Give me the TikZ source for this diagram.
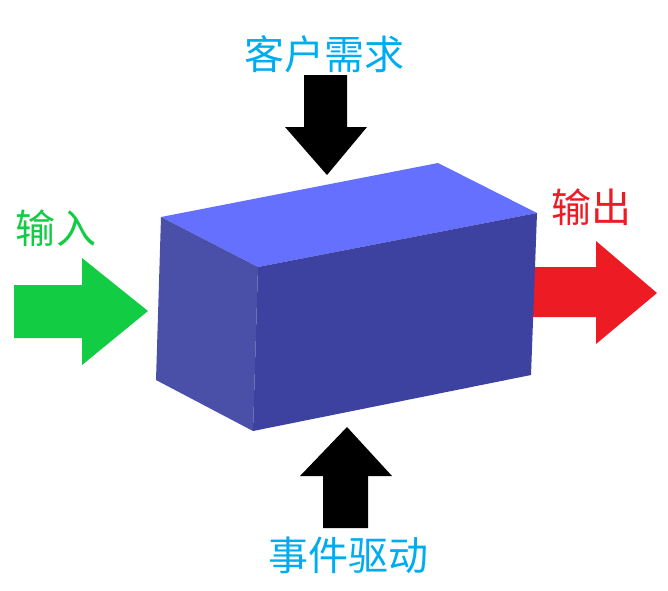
\documentclass[tikz,border=0pt]{standalone}
\usepackage{fontspec}
\newfontfamily\cjk{Noto Sans CJK SC}
\definecolor{arrgreen}{RGB}{18,204,68}
\definecolor{arrred}{RGB}{237,28,36}
\definecolor{lblblue}{RGB}{0,172,240}
\definecolor{facetop}{RGB}{102,112,255}
\definecolor{faceleft}{RGB}{74,80,168}
\definecolor{facefront}{RGB}{61,66,160}
\begin{document}
\begin{tikzpicture}[x=1pt,y=-1pt,
  lbl/.style={font=\cjk\fontsize{40}{40}\selectfont, inner sep=0pt, anchor=base},
  face/.style={line join=round}]
\useasboundingbox (0,0) rectangle (668,590);
% green input arrow
\fill[arrgreen] (14,285) -- (82,285) -- (82,258) -- (148,311) -- (82,365) -- (82,338) -- (14,338) -- cycle;
% red output arrow (shaft starts behind box)
\fill[arrred] (520,267) -- (596,267) -- (596,241) -- (657,293) -- (596,344) -- (596,317) -- (520,317) -- cycle;
% black down arrow
\fill[black] (304,75) -- (347,75) -- (347,127) -- (367,127) -- (327,175) -- (285,127) -- (304,127) -- cycle;
% black up arrow
\fill[black] (323,528) -- (368,528) -- (368,476) -- (392,476) -- (347,427) -- (300,476) -- (323,476) -- cycle;
% box
\coordinate (A) at (161,217);
\coordinate (B) at (438,163);
\coordinate (C) at (537,213);
\coordinate (D) at (258,267);
\coordinate (E) at (156,380);
\coordinate (F) at (253,431);
\coordinate (G) at (531,375);
\fill[facetop,face] (A) -- (B) -- (C) -- (D) -- cycle;
\fill[faceleft,face] (A) -- (D) -- (F) -- (E) -- cycle;
\fill[facefront,face] (D) -- (C) -- (G) -- (F) -- cycle;
% labels
\node[lbl, text=lblblue] (kehu) at (324,69) {客户需求};
\node[lbl, text=lblblue] (shijian) at (348,570) {事件驱动};
\node[lbl, text=arrgreen] (shuru) at (56,243) {输入};
\node[lbl, text=arrred] (shuchu) at (591,222) {输出};
\end{tikzpicture}
\end{document}
